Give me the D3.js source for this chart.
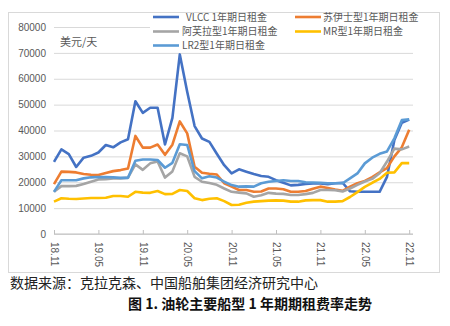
<!DOCTYPE html>
<html>
<head>
<meta charset="utf-8">
<style>
    body {
        margin: 0;
        background: #ffffff;
        font-family: "Noto Sans CJK SC", "Liberation Sans", sans-serif;
    }
    .tick text {
        font-size: 10px;
        fill: #595959;
        font-family: "Liberation Sans", sans-serif;
    }
    .grid .tick line {
        stroke: #d9d9d9;
    }
    .legend-text {
        font-size: 10px;
        fill: #595959;
    }
    .series {
        fill: none;
        stroke-width: 2.6;
        stroke-linejoin: round;
    }
</style>
</head>
<body>
<div id="chart"></div>
<script src="https://cdnjs.cloudflare.com/ajax/libs/d3/7.8.5/d3.min.js"></script>
<script>
    // monthly categories
    const months = [
        "18.11", "18.12",
        "19.01", "19.02", "19.03", "19.04", "19.05", "19.06", "19.07", "19.08", "19.09", "19.10", "19.11", "19.12",
        "20.01", "20.02", "20.03", "20.04", "20.05", "20.06", "20.07", "20.08", "20.09", "20.10", "20.11", "20.12",
        "21.01", "21.02", "21.03", "21.04", "21.05", "21.06", "21.07", "21.08", "21.09", "21.10", "21.11", "21.12",
        "22.01", "22.02", "22.03", "22.04", "22.05", "22.06", "22.07", "22.08", "22.09", "22.10", "22.11"
    ];
    const tickLabels = ["18.11", "19.05", "19.11", "20.05", "20.11", "21.05", "21.11", "22.05", "22.11"];
    const yTicks = [0, 10000, 20000, 30000, 40000, 50000, 60000, 70000, 80000];

    // 1-year time charter rates, USD/day
    const vlcc = [27900, 32700, 30900, 25900, 29500, 30200, 31500, 34400, 33500, 35400, 36600, 51300, 46800,
        48800, 48800, 34600, 44900, 69400, 55000, 41700, 36900, 35600, 31000, 26600, 23400, 25000, 24100,
        23200, 22400, 22100, 20800, 19800, 18800, 19000, 19300, 19500, 19500, 19200, 19600, 19800, 16500,
        16300, 16300, 16300, 16300, 22100, 36300, 43000, 44200];
    const suez = [19300, 24100, 24000, 23800, 23200, 22900, 22800, 23600, 24300, 24700, 25300, 37900, 33400,
        33400, 34600, 30600, 34500, 43500, 38900, 26000, 23700, 23300, 23000, 19600, 18300, 17000, 17000,
        16300, 16400, 17600, 17600, 17300, 16300, 16300, 16600, 17500, 18300, 17800, 17200, 16700, 18300,
        19600, 20500, 22000, 23800, 25500, 30000, 33500, 40300];
    const aframax = [16300, 18500, 18500, 18600, 19300, 20200, 21100, 21200, 21500, 21500, 21800, 26900, 24800,
        27300, 28000, 21800, 24200, 31200, 30000, 22100, 20200, 19700, 19000, 17600, 16300, 16000, 15700,
        14400, 15000, 15900, 15600, 15500, 15100, 15100, 15400, 15900, 17000, 17000, 16900, 16400, 17600,
        19000, 20300, 21300, 23500, 28000, 33000, 32700, 33800];
    const mr = [12500, 13800, 13600, 13500, 13700, 13900, 13900, 14000, 14700, 14700, 14400, 16300, 16000,
        15900, 16600, 15400, 15500, 17000, 16600, 13800, 13100, 13600, 13800, 12700, 11200, 11300, 12100,
        12500, 12700, 12900, 13000, 12900, 12500, 12500, 13000, 13100, 13100, 12500, 12500, 12700, 14300,
        16200, 18200, 19800, 21300, 23700, 23800, 27400, 27400];
    const lr2 = [16300, 20800, 20800, 20800, 21500, 21900, 22000, 22000, 21900, 21700, 21700, 28300, 28800,
        28800, 28600, 25600, 27500, 34700, 34400, 24300, 21500, 22300, 21800, 20200, 18900, 18300, 18400,
        18300, 19600, 20200, 20500, 20800, 20500, 20500, 20000, 19900, 19800, 19600, 19600, 19600, 21500,
        23400, 27300, 29500, 31000, 31900, 37000, 44000, 44300];

    const series = [
        { name: "VLCC 1年期日租金", color: "#4472c4", values: vlcc },
        { name: "苏伊士型1年期日租金", color: "#ed7d31", values: suez },
        { name: "阿芙拉型1年期日租金", color: "#a5a5a5", values: aframax },
        { name: "MR型1年期日租金", color: "#ffc000", values: mr },
        { name: "LR2型1年期日租金", color: "#5b9bd5", values: lr2 }
    ];

    const W = 450, H = 326;
    const plotLeft = 54, plotRight = 413, plotTop = 27, plotBottom = 234;

    const svg = d3.select("#chart")
        .append("svg")
        .attr("width", W)
        .attr("height", H);

    // chart frame
    svg.append("rect")
        .attr("x", 8.5).attr("y", 12.5)
        .attr("width", 431).attr("height", 260)
        .attr("fill", "#fff")
        .attr("stroke", "#d9d9d9");

    const x = d3.scalePoint()
        .domain(months)
        .range([plotLeft, 409.2]);

    const y = d3.scaleLinear()
        .domain([0, 80000])
        .range([plotBottom, plotTop]);

    // gridlines + y labels
    const yAxis = svg.append("g")
        .attr("class", "grid")
        .attr("transform", `translate(${plotLeft},0)`)
        .call(d3.axisLeft(y)
            .tickValues(yTicks)
            .tickSize(-(plotRight - plotLeft))
            .tickPadding(8)
            .tickFormat(d3.format("d")));
    yAxis.select(".domain").remove();

    // x axis
    const xAxis = svg.append("g")
        .attr("transform", `translate(0,${plotBottom})`)
        .call(d3.axisBottom(x)
            .tickValues(tickLabels)
            .tickSizeInner(-4)
            .tickSizeOuter(0));
    xAxis.select(".domain")
        .attr("d", `M${plotLeft},0H${plotRight}`)
        .attr("stroke", "#bfbfbf");
    xAxis.selectAll(".tick line").attr("stroke", "#bfbfbf");
    xAxis.selectAll(".tick text")
        .attr("transform", "rotate(90)")
        .attr("x", 8)
        .attr("y", 0)
        .attr("dy", "0.35em")
        .style("text-anchor", "start");

    // lines
    const line = d3.line()
        .x((d, i) => x(months[i]))
        .y(d => y(d));

    svg.selectAll(".series")
        .data(series)
        .enter()
        .append("path")
        .attr("class", "series")
        .attr("stroke", d => d.color)
        .attr("d", d => line(d.values));

    // unit label
    svg.append("text")
        .attr("x", 60)
        .attr("y", 46)
        .attr("font-size", 11)
        .attr("fill", "#595959")
        .text("美元/天");

    // legend
    const legend = svg.append("g");
    legend.append("rect")
        .attr("x", 150).attr("y", 13)
        .attr("width", 263).attr("height", 39)
        .attr("fill", "#fff");

    const legendPos = [
        { lx: 153, ty: 17, tx: 186 },
        { lx: 295, ty: 17, tx: 323 },
        { lx: 153, ty: 31.5, tx: 182 },
        { lx: 295, ty: 31.5, tx: 323 },
        { lx: 153, ty: 45.5, tx: 182 }
    ];

    series.forEach((s, i) => {
        const p = legendPos[i];
        legend.append("line")
            .attr("x1", p.lx).attr("x2", p.lx + 26)
            .attr("y1", p.ty).attr("y2", p.ty)
            .attr("stroke", s.color)
            .attr("stroke-width", 2.6);
        legend.append("text")
            .attr("class", "legend-text")
            .attr("x", p.tx)
            .attr("y", p.ty)
            .attr("dy", "0.36em")
            .text(s.name);
    });

    // source + caption
    svg.append("text")
        .attr("x", 10)
        .attr("y", 288)
        .attr("font-size", 14)
        .attr("fill", "#222")
        .text("数据来源：克拉克森、中国船舶集团经济研究中心");

    svg.append("text")
        .attr("x", 250)
        .attr("y", 309)
        .attr("text-anchor", "middle")
        .attr("font-size", 14)
        .attr("font-weight", "bold")
        .attr("fill", "#111")
        .text("图 1.  油轮主要船型 1 年期期租费率走势");
</script>
</body>
</html>
